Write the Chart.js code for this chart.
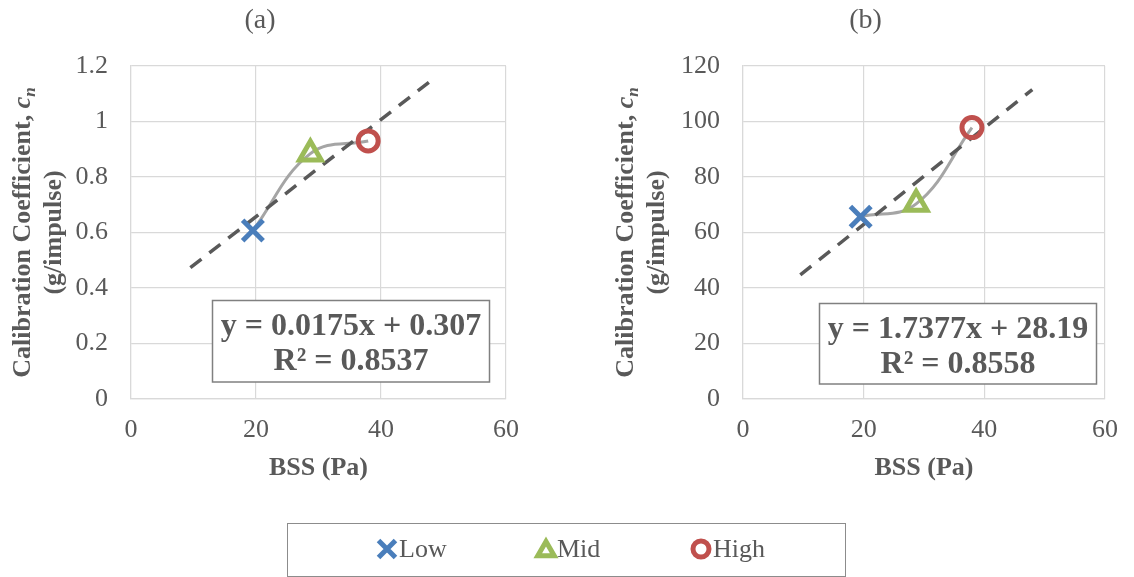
<!DOCTYPE html>
<html>
<head>
<meta charset="utf-8">
<script src="https://cdn.jsdelivr.net/npm/chart.js@4/dist/chart.umd.min.js"></script>
<style>
  body { margin: 0; background: #fff; width: 1134px; height: 577px; position: relative; overflow: hidden; }
  canvas.chart { position: absolute; top: 0; }
  #chartA { left: 0; }
  #chartB { left: 567px; }
  #legend { position: absolute; left: 287px; top: 523px; width: 559px; height: 54px; box-sizing: border-box; border: 1px solid #8c8c8c; font-family: 'Liberation Serif', 'Times New Roman', serif; font-size: 26px; color: #595959; }
  #legend span { position: absolute; top: 12px; line-height: 26px; white-space: nowrap; }
  #legend canvas { position: absolute; }
</style>
</head>
<body>
<canvas id="chartA" class="chart" width="567" height="510"></canvas>
<canvas id="chartB" class="chart" width="567" height="510"></canvas>
<div id="legend"></div>

<script>
// BSS (Pa) for the three flow conditions
const bss = [19.5, 28.7, 37.95];
const seriesNames = ["Low", "Mid", "High"];

// calibration coefficient, panel (a) and panel (b)
const coefA = [0.607, 0.884, 0.93];
const coefB = [65.7, 70.3, 97.8];

// linear fits shown on the charts: slope, intercept, R²
const fitA = [0.0175, 0.307, 0.8537];
const fitB = [1.7377, 28.19, 0.8558];
const trendX = [9.5, 47.95]; // trendline extended 10 Pa each way

const xTicks = [0, 20, 40, 60];
const yTicksA = [0, 0.2, 0.4, 0.6, 0.8, 1, 1.2];
const yTicksB = [0, 20, 40, 60, 80, 100, 120];
const panelTitles = ["(a)", "(b)"];

const serif = "'Liberation Serif', 'Times New Roman', serif";
const textColor = "#595959";
const gridColor = "#D9D9D9";
const markerStyles = ["crossRot", "triangle", "circle"];
const markerColors = ["#4A7EBB", "#9BBB59", "#C0504D"];
const markerRadii = [14.5, 12.5, 10];

Chart.defaults.font.family = serif;
Chart.defaults.color = textColor;

// panel title, two-line y-axis title and the trendline label box
const decor = {
  id: "decor",
  afterDraw(chart, args, o) {
    const ctx = chart.ctx;
    const mid = (chart.chartArea.top + chart.chartArea.bottom) / 2;
    ctx.save();
    ctx.fillStyle = textColor;

    ctx.font = "28px " + serif;
    ctx.textAlign = "center";
    ctx.textBaseline = "middle";
    ctx.fillText(o.title, o.titleX, 21);

    const bold = "bold 26px " + serif;
    const ital = "italic bold 26px " + serif;
    const sub = "italic bold 17px " + serif;
    const main = "Calibration Coefficient, ";
    ctx.textAlign = "left";
    ctx.textBaseline = "alphabetic";

    ctx.save();
    ctx.translate(o.yTitleX[0], mid);
    ctx.rotate(-Math.PI / 2);
    ctx.font = bold; const w1 = ctx.measureText(main).width;
    ctx.font = ital; const w2 = ctx.measureText("c").width;
    ctx.font = sub; const w3 = ctx.measureText("n").width;
    let x = -(w1 + w2 + w3) / 2;
    ctx.font = bold; ctx.fillText(main, x, 0); x += w1;
    ctx.font = ital; ctx.fillText("c", x, 0); x += w2;
    ctx.font = sub; ctx.fillText("n", x, 5);
    ctx.restore();

    ctx.save();
    ctx.translate(o.yTitleX[1], mid);
    ctx.rotate(-Math.PI / 2);
    ctx.font = bold;
    ctx.textAlign = "center";
    ctx.fillText("(g/impulse)", 0, 0);
    ctx.restore();

    const [bx, by, bw, bh] = o.box;
    ctx.fillStyle = "#fff";
    ctx.fillRect(bx, by, bw, bh);
    ctx.strokeStyle = "#808080";
    ctx.lineWidth = 1.5;
    ctx.strokeRect(bx, by, bw, bh);
    ctx.fillStyle = textColor;
    ctx.font = "bold 32px " + serif;
    ctx.textAlign = "center";
    ctx.fillText("y = " + o.fit[0] + "x + " + o.fit[1], bx + bw / 2, by + 34);
    ctx.fillText("R\u00B2 = " + o.fit[2], bx + bw / 2, by + 69);
    ctx.restore();
  }
};

function panelDatasets(ys, fit) {
  const sets = seriesNames.map((name, i) => ({
    label: name,
    data: [{ x: bss[i], y: ys[i] }],
    pointStyle: markerStyles[i],
    pointRadius: markerRadii[i],
    pointBorderColor: markerColors[i],
    pointBackgroundColor: "rgba(0,0,0,0)",
    pointBorderWidth: 5,
    order: 0
  }));
  sets.push({
    label: "Linear",
    data: trendX.map((x) => ({ x: x, y: fit[0] * x + fit[1] })),
    showLine: true,
    borderColor: "#595959",
    borderWidth: 3.5,
    borderDash: [14, 10],
    pointRadius: 0,
    order: 1
  });
  sets.push({
    label: "Smooth",
    data: bss.map((x, i) => ({ x: x, y: ys[i] })),
    showLine: true,
    borderColor: "#A5A5A5",
    borderWidth: 3,
    tension: 0.4,
    pointRadius: 0,
    order: 2
  });
  return sets;
}

function makePanel(id, ys, yTicks, fit, p) {
  new Chart(document.getElementById(id), {
    type: "scatter",
    data: { datasets: panelDatasets(ys, fit) },
    options: {
      responsive: false,
      animation: false,
      events: [],
      devicePixelRatio: 1,
      layout: { padding: { left: 0, top: 66, right: p.right, bottom: 0 } },
      plugins: {
        legend: { display: false },
        tooltip: { enabled: false },
        decor: { title: p.title, titleX: p.titleX, yTitleX: p.yTitleX, box: p.box, fit: fit }
      },
      scales: {
        x: {
          type: "linear",
          min: xTicks[0],
          max: xTicks[xTicks.length - 1],
          afterBuildTicks: (s) => { s.ticks = xTicks.map((v) => ({ value: v })); },
          afterFit: (s) => { s.height = 111; },
          grid: { color: gridColor, lineWidth: 1.2, drawTicks: false },
          border: { color: gridColor, width: 1.2 },
          ticks: { padding: 16, font: { size: 26 }, color: textColor, callback: (v) => String(v) },
          title: { display: true, text: "BSS (Pa)", color: textColor, font: { size: 26, weight: "bold" }, padding: { top: 0, bottom: 26 } }
        },
        y: {
          type: "linear",
          min: yTicks[0],
          max: yTicks[yTicks.length - 1],
          afterBuildTicks: (s) => { s.ticks = yTicks.map((v) => ({ value: v })); },
          afterFit: (s) => { s.width = p.yWidth; },
          grid: { color: gridColor, lineWidth: 1.2, drawTicks: false },
          border: { color: gridColor, width: 1.2 },
          ticks: { padding: 23, font: { size: 26 }, color: textColor, callback: (v) => String(v) }
        }
      }
    },
    plugins: [decor]
  });
}

makePanel("chartA", coefA, yTicksA, fitA, {
  title: panelTitles[0], titleX: 260, yTitleX: [30, 61], yWidth: 131, right: 61, box: [212.5, 300.5, 277, 81.5]
});
makePanel("chartB", coefB, yTicksB, fitB, {
  title: panelTitles[1], titleX: 298.5, yTitleX: [66, 97], yWidth: 176, right: 24, box: [252.5, 303.5, 277, 80.5]
});

// shared legend under both panels
const legend = document.getElementById("legend");
const legendMarkX = [98.9, 257.5, 413];
const legendTextX = [111, 269, 425];
const legendRadii = [12, 9.5, 8];
seriesNames.forEach((name, i) => {
  const c = document.createElement("canvas");
  c.width = 30; c.height = 30;
  c.style.left = (legendMarkX[i] - 15) + "px";
  c.style.top = (25 - 15) + "px";
  const ctx = c.getContext("2d");
  ctx.strokeStyle = markerColors[i];
  ctx.lineWidth = 5;
  ctx.beginPath();
  const r = legendRadii[i];
  if (markerStyles[i] === "crossRot") {
    const a = r * Math.SQRT1_2;
    ctx.moveTo(15 - a, 15 - a); ctx.lineTo(15 + a, 15 + a);
    ctx.moveTo(15 - a, 15 + a); ctx.lineTo(15 + a, 15 - a);
  } else if (markerStyles[i] === "triangle") {
    for (let k = 0; k < 3; k++) {
      const ang = k * 2 * Math.PI / 3;
      const px = 15 + Math.sin(ang) * r, py = 17 - Math.cos(ang) * r;
      if (k === 0) ctx.moveTo(px, py); else ctx.lineTo(px, py);
    }
    ctx.closePath();
  } else {
    ctx.arc(15, 15, r, 0, 2 * Math.PI);
  }
  ctx.stroke();
  legend.appendChild(c);
  const s = document.createElement("span");
  s.textContent = name;
  s.style.left = legendTextX[i] + "px";
  legend.appendChild(s);
});
</script>
</body>
</html>
